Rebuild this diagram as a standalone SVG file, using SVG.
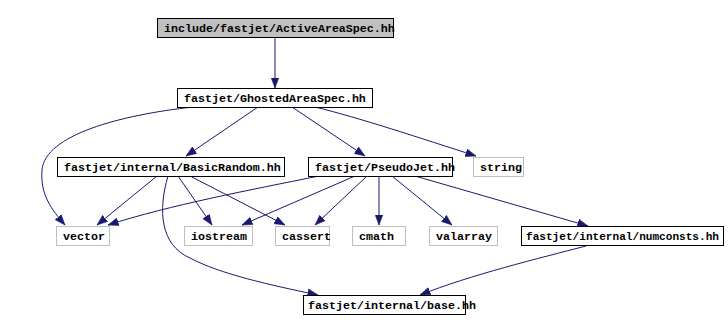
<svg xmlns="http://www.w3.org/2000/svg" width="728" height="332" viewBox="0 0 728 332">
<style>
  .n rect { fill: #ffffff; stroke: #000000; stroke-width: 1; }
  .g rect { fill: #ffffff; stroke: #bfbfbf; stroke-width: 1; }
  .root rect { fill: #bfbfbf; stroke: #000000; stroke-width: 1; }
  text { font-family: "Liberation Mono", "DejaVu Sans Mono", monospace; font-weight: bold; font-size: 11.67px; fill: #000000; }
  .e path { fill: none; stroke: #191970; stroke-width: 1; marker-end: url(#ah); }
</style>
<defs>
  <marker id="ah" markerUnits="userSpaceOnUse" markerWidth="11" markerHeight="9" viewBox="0 0 11 9" refX="10.5" refY="4.5" orient="auto">
    <path d="M0,0.5 L10.5,4.5 L0,8.5 z" fill="#191970" stroke="#191970" stroke-width="0.5"/>
  </marker>
</defs>
<rect width="728" height="332" fill="#ffffff"/>
<g id="edges" class="e">
  <path d="M275,37 L275,88"/>
  <path d="M193,107 C120,115 45,135 42,170 C40,195 52,210 65,225"/>
  <path d="M258,107 L186,156"/>
  <path d="M292,107 L365,156"/>
  <path d="M315,107 C360,118 420,138 476,156"/>
  <path d="M157,176 L97,225"/>
  <path d="M178,176 L212,225"/>
  <path d="M190,176 L285,225"/>
  <path d="M168,176 C158,210 160,245 190,258 C220,274 270,285 318,295"/>
  <path d="M319,176 C250,190 170,205 108,225"/>
  <path d="M355,176 L242,225"/>
  <path d="M367,176 L315,225"/>
  <path d="M379,176 L379,225"/>
  <path d="M392,176 L452,225"/>
  <path d="M415,176 L588,226"/>
  <path d="M586,246 C540,258 470,275 420,295"/>
</g>
<g id="node_root" class="root"><rect x="157.5" y="18.5" width="236" height="19"/><text x="164" y="32">include/fastjet/ActiveAreaSpec.hh</text></g>
<g id="node_ghosted" class="n"><rect x="177.5" y="88.5" width="195" height="19"/><text x="184" y="102">fastjet/GhostedAreaSpec.hh</text></g>
<g id="node_basicrandom" class="n"><rect x="57.5" y="157.5" width="227" height="19"/><text x="64" y="171">fastjet/internal/BasicRandom.hh</text></g>
<g id="node_pseudojet" class="n"><rect x="308.5" y="157.5" width="144" height="19"/><text x="315" y="171">fastjet/PseudoJet.hh</text></g>
<g id="node_string" class="g"><rect x="473.5" y="157.5" width="50" height="19"/><text x="480" y="171">string</text></g>
<g id="node_vector" class="g"><rect x="56.5" y="226.5" width="53" height="19"/><text x="63" y="240">vector</text></g>
<g id="node_iostream" class="g"><rect x="184.5" y="226.5" width="68" height="19"/><text x="191" y="240">iostream</text></g>
<g id="node_cassert" class="g"><rect x="275.5" y="226.5" width="54" height="19"/><text x="282" y="240">cassert</text></g>
<g id="node_cmath" class="g"><rect x="352.5" y="226.5" width="53" height="19"/><text x="359" y="240">cmath</text></g>
<g id="node_valarray" class="g"><rect x="429.5" y="226.5" width="68" height="19"/><text x="436" y="240">valarray</text></g>
<g id="node_numconsts" class="n"><rect x="521.5" y="226.5" width="202" height="19"/><text x="526" y="240" textLength="193" lengthAdjust="spacingAndGlyphs">fastjet/internal/numconsts.hh</text></g>
<g id="node_base" class="n"><rect x="303.5" y="295.5" width="162" height="19"/><text x="308" y="309">fastjet/internal/base.hh</text></g>
</svg>
